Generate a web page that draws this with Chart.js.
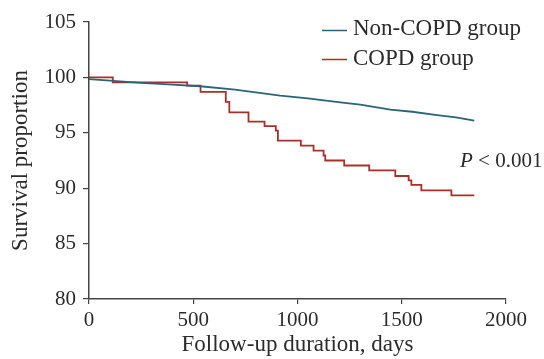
<!DOCTYPE html>
<html>
<head>
<meta charset="utf-8">
<script src="https://cdn.jsdelivr.net/npm/chart.js@4"></script>
<style>
  html, body { margin: 0; padding: 0; background: #fff; }
  #wrap { width: 544px; height: 359px; }
</style>
</head>
<body>
<div id="wrap"><canvas id="km"></canvas></div>
<script>
// Non-COPD group
const nonCopdDays = [0, 100, 250, 400, 533, 700, 917, 1050, 1205, 1301, 1445, 1550, 1669, 1760, 1848]
const nonCopdSurv = [99.85, 99.7, 99.5, 99.35, 99.2, 98.9, 98.35, 98.1, 97.75, 97.55, 97.1, 96.9, 96.6, 96.4, 96.1]

// COPD group, Kaplan-Meier steps
const copdDays = [0, 114, 471, 535, 656, 673, 765, 842, 896, 906, 1016, 1077, 1125, 1133, 1224, 1344, 1469, 1533, 1546, 1594, 1738, 1848]
const copdSurv = [100, 99.55, 99.25, 98.7, 97.8, 96.85, 96.0, 95.6, 95.2, 94.3, 93.85, 93.4, 92.95, 92.5, 92.05, 91.6, 91.1, 90.7, 90.3, 89.8, 89.35, 89.35]

const xTicks = [0, 500, 1000, 1500, 2000]
const yTicks = [80, 85, 90, 95, 100, 105]

const serif = "'Liberation Serif', 'DejaVu Serif', serif"
const textColor = '#2b2b2b'
const axisColor = '#444'
const blue = '#2b6478'
const red = '#a8302b'

function toPoints(xs, ys) {
  return xs.map((x, i) => ({ x: x, y: ys[i] }))
}

// legend and p-value drawn on top of the chart
const annotations = {
  id: 'annotations',
  afterDraw(chart) {
    const ctx = chart.ctx
    ctx.save()
    const items = [
      { label: 'Non-COPD group', color: blue, lineY: 30.5, textY: 35 },
      { label: 'COPD group', color: red, lineY: 59.5, textY: 65 }
    ]
    items.forEach((it) => {
      ctx.strokeStyle = it.color
      ctx.lineWidth = 1.5
      ctx.beginPath()
      ctx.moveTo(322, it.lineY)
      ctx.lineTo(347, it.lineY)
      ctx.stroke()
      ctx.fillStyle = textColor
      ctx.font = '23px ' + serif
      ctx.textBaseline = 'alphabetic'
      ctx.textAlign = 'left'
      ctx.fillText(it.label, 353, it.textY)
    })
    // P value
    ctx.font = 'italic 21px ' + serif
    ctx.fillText('P', 460, 167)
    const pw = ctx.measureText('P').width
    ctx.font = '21px ' + serif
    ctx.fillText(' < 0.001', 460 + pw, 167)
    ctx.restore()
  }
}

new Chart(document.getElementById('km'), {
  type: 'line',
  data: {
    datasets: [
      {
        label: 'Non-COPD group',
        data: toPoints(nonCopdDays, nonCopdSurv),
        borderColor: blue,
        borderWidth: 1.8,
        pointRadius: 0,
        fill: false
      },
      {
        label: 'COPD group',
        data: toPoints(copdDays, copdSurv),
        borderColor: red,
        borderWidth: 1.8,
        pointRadius: 0,
        stepped: 'before',
        fill: false
      }
    ]
  },
  options: {
    responsive: true,
    maintainAspectRatio: false,
    animation: false,
    layout: { padding: { top: 22, right: 38, left: 0, bottom: 0 } },
    plugins: {
      legend: { display: false },
      tooltip: { enabled: false }
    },
    scales: {
      x: {
        type: 'linear',
        min: 0,
        max: 2000,
        afterBuildTicks(scale) {
          scale.ticks = xTicks.map((v) => ({ value: v }))
        },
        afterFit(scale) { scale.height = 60 },
        grid: { drawOnChartArea: false, drawTicks: true, tickLength: 5, color: axisColor, lineWidth: 1.2 },
        border: { color: axisColor, width: 1.5 },
        ticks: {
          color: textColor,
          font: { family: serif, size: 21 },
          padding: 4,
          maxRotation: 0,
          callback: (v) => String(v)
        },
        title: {
          display: true,
          text: 'Follow-up duration, days',
          color: textColor,
          font: { family: serif, size: 23 },
          padding: { top: 0, bottom: 0 }
        }
      },
      y: {
        min: 80,
        max: 105,
        afterBuildTicks(scale) {
          scale.ticks = yTicks.map((v) => ({ value: v }))
        },
        afterFit(scale) { scale.width = 89 },
        grid: { drawOnChartArea: false, drawTicks: true, tickLength: 6, color: axisColor, lineWidth: 1.2 },
        border: { color: axisColor, width: 1.5 },
        ticks: { color: textColor, font: { family: serif, size: 21 }, padding: 7, callback: (v) => String(v) },
        title: {
          display: true,
          text: 'Survival proportion',
          color: textColor,
          font: { family: serif, size: 23 },
          padding: { top: 7, bottom: 0 }
        }
      }
    }
  },
  plugins: [annotations]
})
</script>
</body>
</html>
